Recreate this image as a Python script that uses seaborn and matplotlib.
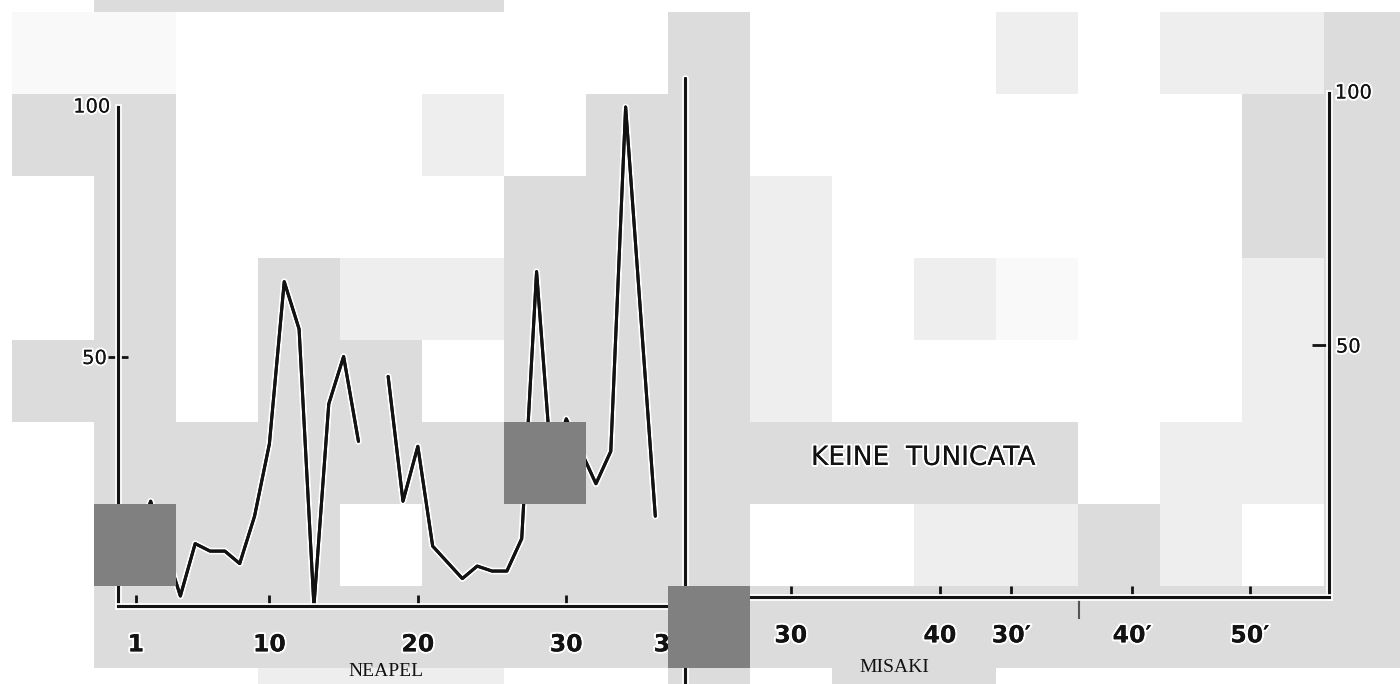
import matplotlib
matplotlib.use("Agg")
import matplotlib.pyplot as plt
import matplotlib.patheffects as pe
from matplotlib.patches import Rectangle
from matplotlib import font_manager
import pandas as pd
import seaborn as sns

# ---- data -----------------------------------------------------------------
# Neapel stations and tunicate share (%); the curve is broken after station 16
NEAPEL_STATIONS = [1, 2, 4, 5, 6, 7, 8, 9, 10, 11, 12, 13, 14, 15, 16,
                   18, 19, 20, 21, 23, 24, 25, 26, 27, 28, 29, 30, 32, 33, 34, 36]
NEAPEL_VALUES = [12, 21, 2, 12.5, 11, 11, 8.5, 18, 32.5, 65, 55.5, 0, 40.5, 50, 33,
                 46, 21, 32, 12, 5.5, 8, 7, 7, 13.5, 67, 28, 37.5, 24.5, 31, 100, 18]
NEAPEL_SEGMENT = [1] * 15 + [2] * 16

NEAPEL_TICKS = [1, 10, 20, 30, 37]
NEAPEL_TICK_LABELS = ["1", "10", "20", "30", "37"]

MISAKI_TICKS = [30, 40, 44.8, 52.9, 60.8]
MISAKI_TICK_LABELS = ["30", "40", "30\u2032", "40\u2032", "50\u2032"]
MISAKI_BREAK = [49.3]

Y_TICKS = [50]
Y_TICK_LABELS = ["50"]
Y_TOP = 100

# ---- backdrop tiles (shade index per 82 px tile) --------------------------
TILE_SHADES = ["#ffffff", "#f9f9f9", "#eeeeee", "#dcdcdc", "#808080"]
TILE_ROWS = [
    "003333300000000000",
    "011000000300020223",
    "033000203300000033",
    "003000033320000033",
    "003032233320210023",
    "033033033320000023",
    "003333343333330223",
    "004330333300223203",
    "003333333433333333",
    "000022200303300000",
]

W, H = 1400, 684
COL_EDGES = [0] + [12 + 82 * k for k in range(17)] + [W]
ROW_EDGES = [0] + [12 + 82 * k for k in range(9)] + [H]

sns.set_theme(style="white")
names = {f.name for f in font_manager.fontManager.ttflist}
NARROW = "Liberation Sans Narrow" if "Liberation Sans Narrow" in names else "DejaVu Sans"
SERIF = "Liberation Serif" if "Liberation Serif" in names else "DejaVu Serif"
plt.rcParams["font.family"] = ["DejaVu Sans"]

INK = "#121212"
halo_line = [pe.withStroke(linewidth=4.8, foreground="white"), pe.Normal()]
halo_text = [pe.withStroke(linewidth=3, foreground="white"), pe.Normal()]

fig = plt.figure(figsize=(W / 100, H / 100), dpi=100)
fig.patch.set_facecolor("white")

for r, row in enumerate(TILE_ROWS):
    for c, ch in enumerate(row):
        k = int(ch)
        if k == 0:
            continue
        x0, x1 = COL_EDGES[c], COL_EDGES[c + 1]
        y0, y1 = ROW_EDGES[r], ROW_EDGES[r + 1]
        fig.patches.append(Rectangle((x0 / W, 1 - y1 / H), (x1 - x0) / W, (y1 - y0) / H,
                                     transform=fig.transFigure, facecolor=TILE_SHADES[k],
                                     edgecolor="none", zorder=6 if k == 4 else -1))

# ---- left panel: Neapel ---------------------------------------------------
ax_l = fig.add_axes([118 / W, 1 - 606 / H, (685 - 118) / W, (606 - 107) / H])
ax_r = fig.add_axes([685 / W, 1 - 597 / H, (1329 - 685) / W, (597 - 93) / H])
for ax in (ax_l, ax_r):
    ax.patch.set_visible(False)

df = pd.DataFrame({"station": NEAPEL_STATIONS, "value": NEAPEL_VALUES,
                   "segment": NEAPEL_SEGMENT})
sns.lineplot(data=df, x="station", y="value", units="segment", estimator=None,
             color=INK, linewidth=2.2, ax=ax_l, legend=False)
for ln in ax_l.lines:
    ln.set_clip_on(False)
    ln.set_path_effects(halo_line)
    ln.set_solid_joinstyle("round")

ax_l.set_xlim(-0.2, 38.0)
ax_l.set_ylim(0, Y_TOP)
for side in ("top", "right"):
    ax_l.spines[side].set_visible(False)
for side in ("left", "bottom"):
    ax_l.spines[side].set_color(INK)
    ax_l.spines[side].set_linewidth(2.2)
    ax_l.spines[side].set_path_effects(halo_line)

ax_l.set_xticks(NEAPEL_TICKS)
ax_l.set_xticklabels(NEAPEL_TICK_LABELS, fontweight="bold", fontsize=17)
ax_l.tick_params(axis="x", bottom=True, direction="in", length=8, width=2, pad=19,
                 colors=INK)
ax_l.set_yticks(Y_TICKS)
ax_l.set_yticklabels(Y_TICK_LABELS, fontsize=14)
ax_l.tick_params(axis="y", left=True, direction="inout", length=14, width=2, pad=1,
                 colors=INK)
ax_l.text(-0.014, Y_TOP, str(Y_TOP), transform=ax_l.get_yaxis_transform(),
          ha="right", va="center", fontsize=14, color=INK, path_effects=halo_text)
ax_l.set_xlabel("NEAPEL", family=SERIF, fontsize=14, va="center", color=INK)
ax_l.xaxis.set_label_coords(0.473, -0.132)
ax_l.set_ylabel("")

# ---- right panel: Misaki --------------------------------------------------
ax_r.set_xlim(22.9, 66.1)
ax_r.set_ylim(0, Y_TOP)
for side in ("top", "left"):
    ax_r.spines[side].set_visible(False)
for side in ("right", "bottom"):
    ax_r.spines[side].set_color(INK)
    ax_r.spines[side].set_linewidth(2.2)
    ax_r.spines[side].set_path_effects(halo_line)

sep = ax_r.plot([0, 0], [-0.185, 1.03], transform=ax_r.transAxes, color=INK,
                linewidth=2.2, clip_on=False)[0]
sep.set_path_effects(halo_line)

ax_r.set_xticks(MISAKI_TICKS)
ax_r.set_xticklabels(MISAKI_TICK_LABELS, fontweight="bold", fontsize=17)
ax_r.set_xticks(MISAKI_BREAK, minor=True)
ax_r.tick_params(axis="x", which="major", bottom=True, direction="in", length=8,
                 width=2, pad=19, colors=INK)
ax_r.tick_params(axis="x", which="minor", bottom=True, direction="out", length=16,
                 width=1.5, colors="#555555")
ax_r.yaxis.tick_right()
ax_r.set_yticks(Y_TICKS)
ax_r.set_yticklabels(Y_TICK_LABELS, fontsize=14)
ax_r.tick_params(axis="y", right=True, left=False, direction="in", length=12, width=2,
                 pad=5, colors=INK)
ax_r.text(1.009, Y_TOP, str(Y_TOP), transform=ax_r.get_yaxis_transform(),
          ha="left", va="center", fontsize=14, color=INK, path_effects=halo_text)
ax_r.set_xlabel("MISAKI", family=SERIF, fontsize=14, va="center", color=INK)
ax_r.xaxis.set_label_coords(0.3245, -0.139)

ax_r.text(0.37, 0.276, "KEINE  TUNICATA", transform=ax_r.transAxes, ha="center",
          va="center", fontsize=19, family=NARROW, color=INK, path_effects=halo_text)

for ax in (ax_l, ax_r):
    for lbl in ax.get_xticklabels() + ax.get_yticklabels():
        lbl.set_path_effects(halo_text)

fig.savefig("out.png", dpi=100, facecolor="white")
